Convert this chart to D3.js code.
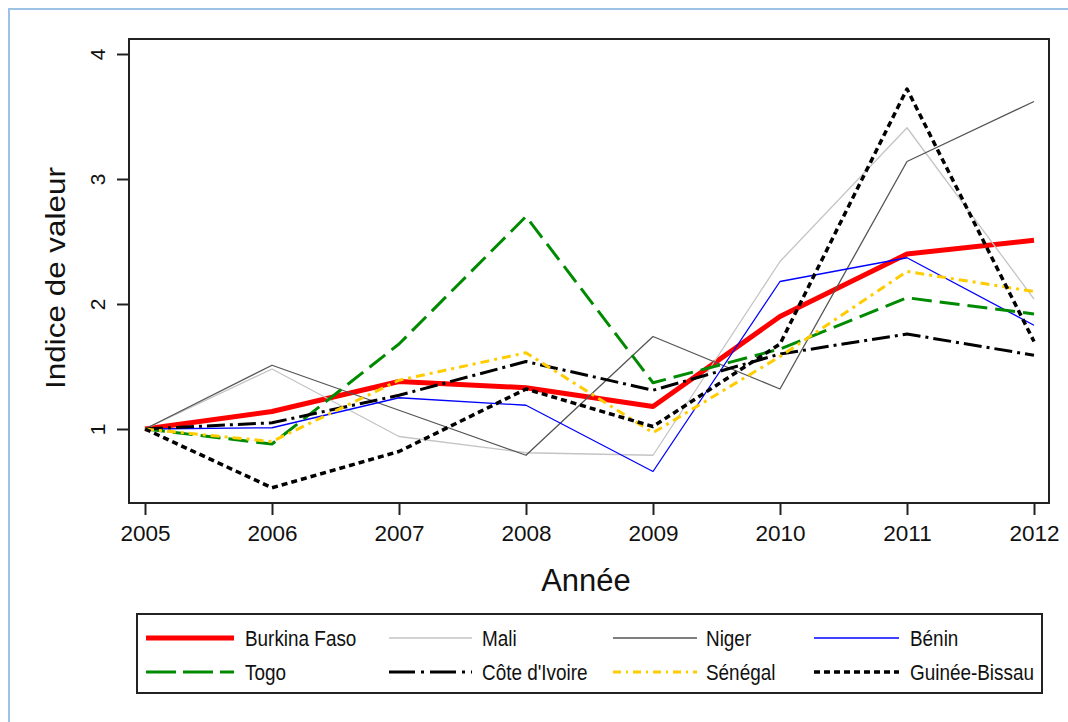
<!DOCTYPE html>
<html>
<head>
<meta charset="utf-8">
<script src="https://cdn.jsdelivr.net/npm/d3@7"></script>
<style>
  body { margin: 0; background: #fff; }
  svg { display: block; }
  text { font-family: Arial, "Liberation Sans", sans-serif; fill: #111; }
</style>
</head>
<body>
<div id="chart"></div>
<script>
// data
const years = [2005, 2006, 2007, 2008, 2009, 2010, 2011, 2012];
const yTicks = [1, 2, 3, 4];

const burkinaFaso  = [1, 1.14, 1.38, 1.33, 1.18, 1.90, 2.40, 2.51];
const mali         = [1, 1.48, 0.94, 0.81, 0.79, 2.34, 3.41, 2.04];
const niger        = [1, 1.51, 1.15, 0.79, 1.74, 1.32, 3.14, 3.62];
const benin        = [1, 1.01, 1.25, 1.19, 0.66, 2.18, 2.37, 1.83];
const togo         = [1, 0.88, 1.68, 2.70, 1.37, 1.64, 2.05, 1.92];
const coteIvoire   = [1, 1.05, 1.27, 1.54, 1.31, 1.60, 1.76, 1.59];
const senegal      = [1, 0.90, 1.39, 1.61, 0.97, 1.58, 2.26, 2.10];
const guineeBissau = [1, 0.53, 0.82, 1.32, 1.02, 1.68, 3.72, 1.70];

const seriesNames = ["Burkina Faso", "Mali", "Niger", "Bénin", "Togo", "Côte d'Ivoire", "Sénégal", "Guinée-Bissau"];
const seriesValues = [burkinaFaso, mali, niger, benin, togo, coteIvoire, senegal, guineeBissau];

// styles per series (same order)
const styles = [
  { color: "#ff0000", width: 5,   dash: null,          legendDash: null },
  { color: "#c4c4c4", width: 1.3, dash: null,          legendDash: null },
  { color: "#555555", width: 1.3, dash: null,          legendDash: null },
  { color: "#0000ff", width: 1.3, dash: null,          legendDash: null },
  { color: "#008a00", width: 3,   dash: "20,8",        legendDash: "30,7" },
  { color: "#000000", width: 3,   dash: "18,5,3,5",    legendDash: "26,6,3,6" },
  { color: "#ffcc00", width: 3,   dash: "9,5,3,5",     legendDash: "8,5,2,5" },
  { color: "#000000", width: 3.5, dash: "6,4",         legendDash: "6,4" }
];

const W = 1068, H = 722;
const frame = { left: 129, right: 1049, top: 39, bottom: 503 };

const svg = d3.select("#chart").append("svg")
  .attr("width", W)
  .attr("height", H);

// page border
svg.append("rect")
  .attr("x", 9).attr("y", 9)
  .attr("width", W + 10).attr("height", H + 10)
  .attr("fill", "none")
  .attr("stroke", "#9cc3e5")
  .attr("stroke-width", 2);

const x = d3.scaleLinear().domain([2005, 2012]).range([145, 1034]);
const y = d3.scaleLinear().domain([1, 4]).range([429, 54]);

// plot frame
svg.append("rect")
  .attr("x", frame.left).attr("y", frame.top)
  .attr("width", frame.right - frame.left)
  .attr("height", frame.bottom - frame.top)
  .attr("fill", "none")
  .attr("stroke", "#222")
  .attr("stroke-width", 2);

// y axis
const yAxis = svg.append("g")
  .attr("transform", `translate(${frame.left},0)`)
  .call(d3.axisLeft(y).tickValues(yTicks).tickFormat(d3.format("d")).tickSize(12));
yAxis.select(".domain").remove();
yAxis.selectAll(".tick line").attr("stroke", "#222").attr("stroke-width", 2);
yAxis.selectAll(".tick text")
  .attr("font-size", 21)
  .attr("font-family", "Arial, 'Liberation Sans', sans-serif")
  .attr("fill", "#111")
  .attr("x", null)
  .attr("text-anchor", "middle")
  .attr("transform", "translate(-31,0) rotate(-90)")
  .attr("dy", "0.35em");

// x axis
const xAxis = svg.append("g")
  .attr("transform", `translate(0,${frame.bottom})`)
  .call(d3.axisBottom(x).tickValues(years).tickFormat(d3.format("d")).tickSize(12).tickPadding(10));
xAxis.select(".domain").remove();
xAxis.selectAll(".tick line").attr("stroke", "#222").attr("stroke-width", 2);
xAxis.selectAll(".tick text")
  .attr("font-size", 22.5)
  .attr("font-family", "Arial, 'Liberation Sans', sans-serif")
  .attr("fill", "#111");

// axis titles
svg.append("text")
  .attr("transform", "translate(65,278) rotate(-90)")
  .attr("text-anchor", "middle")
  .attr("font-size", 28)
  .attr("textLength", 222)
  .attr("lengthAdjust", "spacingAndGlyphs")
  .attr("fill", "#3a3038")
  .text("Indice de valeur");

svg.append("text")
  .attr("x", 586).attr("y", 591)
  .attr("text-anchor", "middle")
  .attr("font-size", 31)
  .attr("fill", "#222")
  .text("Année");

// lines
const line = d3.line()
  .x((d, i) => x(years[i]))
  .y(d => y(d));

const lines = svg.append("g");
seriesValues.forEach((vals, k) => {
  const st = styles[k];
  lines.append("path")
    .datum(vals)
    .attr("fill", "none")
    .attr("stroke", st.color)
    .attr("stroke-width", st.width)
    .attr("stroke-dasharray", st.dash)
    .attr("stroke-linejoin", "round")
    .attr("d", line);
});

// legend
const legendBox = { x: 137, y: 614, w: 905, h: 79 };
const legend = svg.append("g");
legend.append("rect")
  .attr("x", legendBox.x).attr("y", legendBox.y)
  .attr("width", legendBox.w).attr("height", legendBox.h)
  .attr("fill", "#fff")
  .attr("stroke", "#222")
  .attr("stroke-width", 2);

const colLine = [[146, 234], [389, 472], [613, 697], [814, 899]];
const colText = [245, 482, 706, 910];
const rowY = [638, 672];

seriesNames.forEach((name, k) => {
  const col = k % 4, row = Math.floor(k / 4);
  const st = styles[k];
  legend.append("line")
    .attr("x1", colLine[col][0]).attr("x2", colLine[col][1])
    .attr("y1", rowY[row]).attr("y2", rowY[row])
    .attr("stroke", st.color)
    .attr("stroke-width", st.width)
    .attr("stroke-dasharray", st.legendDash);
  // condensed look of the original legend font
  legend.append("text")
    .attr("transform", `translate(${colText[col]},${rowY[row] + 8}) scale(0.86,1)`)
    .attr("font-size", 22)
    .attr("fill", "#222")
    .text(name);
});
</script>
</body>
</html>
